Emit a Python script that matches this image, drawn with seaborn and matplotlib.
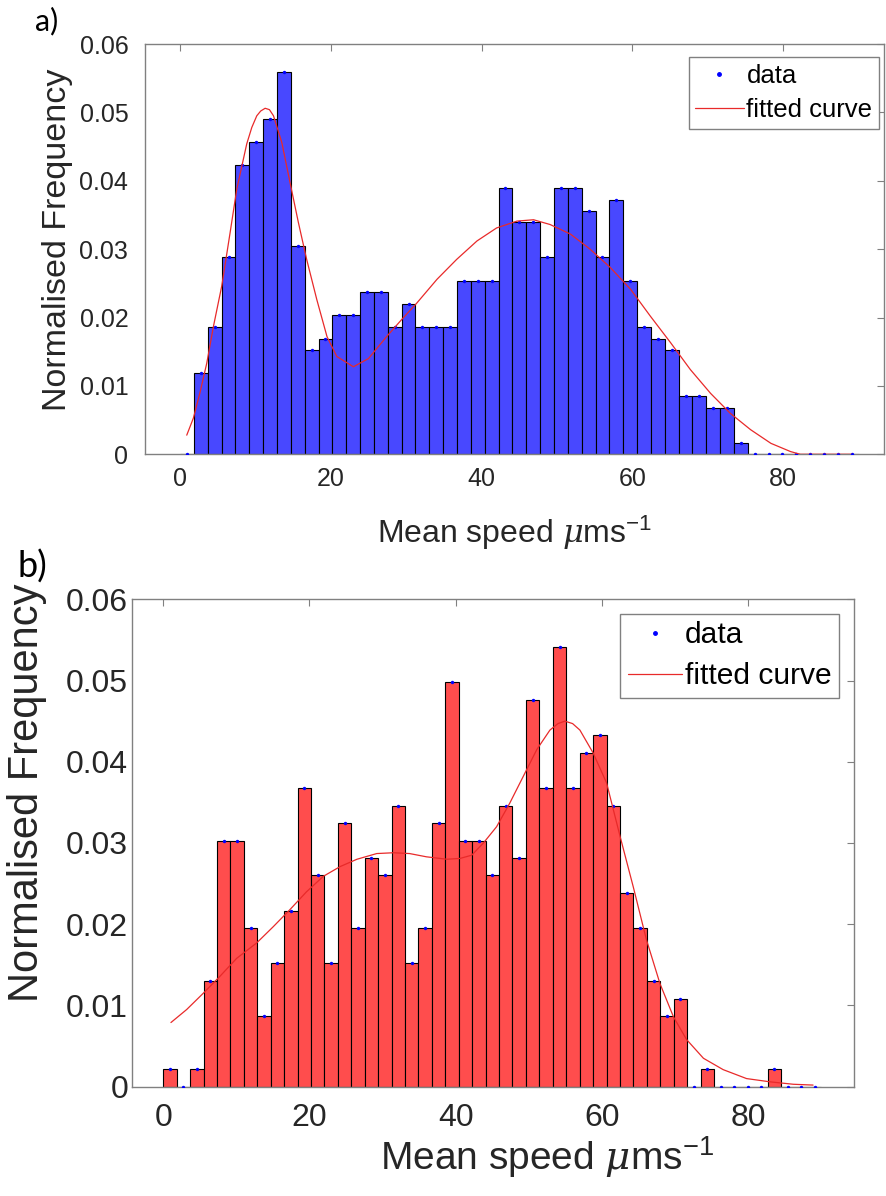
import numpy as np
import pandas as pd
import matplotlib
matplotlib.use("Agg")
import matplotlib.pyplot as plt
import seaborn as sns
from matplotlib.lines import Line2D

# ---------------- data ----------------
bin_centers = [0.92, 2.76, 4.59, 6.43, 8.27, 10.11, 11.94, 13.78, 15.62, 17.46,
               19.29, 21.13, 22.97, 24.81, 26.64, 28.48, 30.32, 32.16, 33.99, 35.83,
               37.67, 39.51, 41.34, 43.18, 45.02, 46.86, 48.69, 50.53, 52.37, 54.21,
               56.04, 57.88, 59.72, 61.56, 63.39, 65.23, 67.07, 68.91, 70.74, 72.58,
               74.42, 76.26, 78.09, 79.93, 81.77, 83.61, 85.44, 87.28, 89.12]

freq_a = [0.0, 0.0119, 0.0186, 0.0288, 0.0423, 0.0457, 0.0491, 0.0559, 0.0305, 0.0152,
          0.0169, 0.0203, 0.0203, 0.0237, 0.0237, 0.0186, 0.0220, 0.0186, 0.0186, 0.0186,
          0.0254, 0.0254, 0.0254, 0.0389, 0.0339, 0.0339, 0.0288, 0.0389, 0.0389, 0.0356,
          0.0288, 0.0372, 0.0254, 0.0186, 0.0169, 0.0152, 0.0085, 0.0085, 0.0068, 0.0068,
          0.0017, 0.0, 0.0, 0.0, 0.0, 0.0, 0.0, 0.0, 0.0]

freq_b = [0.0022, 0.0, 0.0022, 0.0130, 0.0303, 0.0303, 0.0195, 0.0087, 0.0152, 0.0216,
          0.0368, 0.0260, 0.0152, 0.0325, 0.0195, 0.0281, 0.0260, 0.0346, 0.0152, 0.0195,
          0.0325, 0.0498, 0.0303, 0.0303, 0.0260, 0.0346, 0.0281, 0.0476, 0.0368, 0.0541,
          0.0368, 0.0411, 0.0433, 0.0346, 0.0238, 0.0195, 0.0130, 0.0087, 0.0108, 0.0,
          0.0022, 0.0, 0.0, 0.0, 0.0, 0.0022, 0.0, 0.0, 0.0]

fit_a_x = [0.89, 1.77, 2.66, 3.54, 4.43, 5.53, 6.64, 7.53, 8.85, 9.52, 10.18, 10.7, 11.29,
           11.86, 12.4, 13.5, 14.6, 15.7, 16.8, 18.15, 19.5, 20.8, 23.0, 25.0, 27.4, 29.4,
           31.4, 34.1, 36.7, 39.4, 42.0, 44.7, 46.9, 49.1, 51.8, 54.4, 57.1, 59.8, 62.4,
           65.1, 67.7, 70.4, 73.0, 75.7, 78.4, 81.0, 82.3, 85.0, 89.1]
fit_a_y = [0.0028, 0.0053, 0.0091, 0.0133, 0.0187, 0.0246, 0.0324, 0.0388, 0.0454, 0.0478,
           0.0495, 0.0502, 0.0506, 0.0504, 0.0495, 0.0456, 0.0397, 0.0339, 0.0285, 0.0226,
           0.0172, 0.0143, 0.0128, 0.0140, 0.0172, 0.0197, 0.0221, 0.0256, 0.0285, 0.0312,
           0.0331, 0.0341, 0.0343, 0.0336, 0.0322, 0.0300, 0.0273, 0.0241, 0.0202, 0.0163,
           0.0124, 0.0089, 0.0060, 0.0036, 0.0016, 0.0004, 0.0000, 0.0000, 0.0000]

fit_b_x = [1.05, 3.2, 5.47, 7.76, 10.04, 12.78, 15.05, 17.33, 19.6, 21.9, 24.2, 26.5, 29.2,
           31.5, 33.7, 36.0, 38.8, 40.6, 42.2, 43.8, 45.6, 47.4, 49.25, 51.1, 52.9, 54.0,
           54.95, 56.0, 57.0, 58.8, 60.65, 62.5, 64.3, 66.1, 67.95, 69.8, 71.6, 73.9, 76.6,
           79.8, 83.0, 86.2, 88.9]
fit_b_y = [0.0079, 0.0095, 0.0115, 0.0136, 0.0158, 0.0177, 0.0197, 0.0218, 0.0240, 0.0259,
           0.0271, 0.0280, 0.0287, 0.0288, 0.0287, 0.0283, 0.0280, 0.0281, 0.0285, 0.0300,
           0.0320, 0.0349, 0.0382, 0.0415, 0.0439, 0.0447, 0.0450, 0.0447, 0.0439, 0.0411,
           0.0374, 0.0308, 0.0246, 0.0181, 0.0127, 0.0086, 0.0058, 0.0035, 0.0021, 0.0010,
           0.0006, 0.0003, 0.0002]

x_ticks = [0, 20, 40, 60, 80]
x_tick_labels = ["0", "20", "40", "60", "80"]
y_ticks = [0, 0.01, 0.02, 0.03, 0.04, 0.05, 0.06]
y_tick_labels = ["0", "0.01", "0.02", "0.03", "0.04", "0.05", "0.06"]
x_label = "Mean speed $\\mu$ms$^{\\mathregular{-1}}$"
y_label = "Normalised Frequency"
legend_labels = ["data", "fitted curve"]
panel_labels = ["a)", "b)"]

# ---------------- style ----------------
sns.set_theme(style="white")
plt.rcParams["font.family"] = ["Liberation Sans", "DejaVu Sans"]
plt.rcParams["mathtext.fontset"] = "custom"
plt.rcParams["mathtext.rm"] = "Liberation Sans"
plt.rcParams["mathtext.it"] = "DejaVu Serif:italic"

W, H = 886, 1196
fig = plt.figure(figsize=(W / 100, H / 100), dpi=100)
fig.patch.set_facecolor("white")


def px_axes(l, t, r, b):
    return [l / W, 1 - b / H, (r - l) / W, (b - t) / H]


ax_a = fig.add_axes(px_axes(145, 44, 884, 454.3))
ax_b = fig.add_axes(px_axes(131.7, 599.3, 854, 1086.7))

spec = [
    dict(ax=ax_a, freq=freq_a, fx=fit_a_x, fy=fit_a_y, color="#4848ff",
         xlim=(-4.65, 93.4), tick=18, lab=24.5, xlab=23, leg=18.5, xpad=9, ypad=12,
         leg_anchor=(0.993, 0.968), xl=(0.5, -0.2155), yl=(-0.119, 0.522),
         handlelength=1.9, lspace=0.42),
    dict(ax=ax_b, freq=freq_b, fx=fit_b_x, fy=fit_b_y, color="#ff4d4d",
         xlim=(-4.32, 94.5), tick=23, lab=30, xlab=28, leg=21.6, xpad=12, ypad=2.5,
         leg_anchor=(0.979, 0.970), xl=(0.575, -0.1705), yl=(-0.1456, 0.603),
         handlelength=1.8, lspace=0.42),
]

for s in spec:
    ax = s["ax"]
    sns.histplot(x=bin_centers, weights=s["freq"], bins=49, binrange=(0, 90.04),
                 color=s["color"], edgecolor="black", linewidth=0.8, alpha=1,
                 ax=ax, legend=False, zorder=1)
    sns.scatterplot(x=bin_centers, y=s["freq"], color="#0000ff", marker="o", s=6,
                    linewidth=0, ax=ax, zorder=3, legend=False)
    sns.lineplot(x=s["fx"], y=s["fy"], color="#e82a2a", linewidth=0.9, ax=ax,
                 estimator=None, sort=False, zorder=4, legend=False)

    ax.set_xlim(*s["xlim"])
    ax.set_ylim(0, 0.06)
    ax.set_xticks(x_ticks)
    ax.set_xticklabels(x_tick_labels)
    ax.set_yticks(y_ticks)
    ax.set_yticklabels(y_tick_labels)
    ax.tick_params(direction="in", length=5, width=0.8, color="#808080",
                   top=True, right=True, labelsize=s["tick"], labelcolor="#262626")
    ax.tick_params(axis="x", pad=s["xpad"])
    ax.tick_params(axis="y", pad=s["ypad"])
    for sp in ax.spines.values():
        sp.set_visible(True)
        sp.set_color("#808080")
        sp.set_linewidth(1.0)
    ax.set_facecolor("white")
    ax.grid(False)

    ax.set_xlabel(x_label, fontsize=s["xlab"], color="#262626")
    ax.xaxis.set_label_coords(*s["xl"])
    ax.xaxis.label.set_va("baseline")
    ax.set_ylabel(y_label, fontsize=s["lab"], color="#262626")
    ax.yaxis.set_label_coords(*s["yl"])
    ax.yaxis.label.set_va("center")

    handles = [Line2D([], [], marker=".", color="#0000ff", linestyle="none", markersize=5),
               Line2D([], [], color="#e82a2a", linewidth=0.9)]
    leg = ax.legend(handles, legend_labels, loc="upper right", bbox_to_anchor=s["leg_anchor"],
                    borderaxespad=0, fontsize=s["leg"], frameon=True, fancybox=False,
                    edgecolor="#808080", framealpha=1, handlelength=s["handlelength"],
                    handletextpad=0.1, labelspacing=s["lspace"], borderpad=0.25)
    leg.get_frame().set_linewidth(1.0)
    for t in leg.get_texts():
        t.set_color("black")

fig.text(35 / W, 1 - 30 / H, panel_labels[0], fontsize=22, family=["Lato", "DejaVu Sans"],
         va="baseline", ha="left", color="black")
fig.text(17 / W, 1 - 578 / H, panel_labels[1], fontsize=26, family=["Lato", "DejaVu Sans"],
         va="baseline", ha="left", color="black")

fig.savefig("out.png", dpi=100, facecolor="white")
